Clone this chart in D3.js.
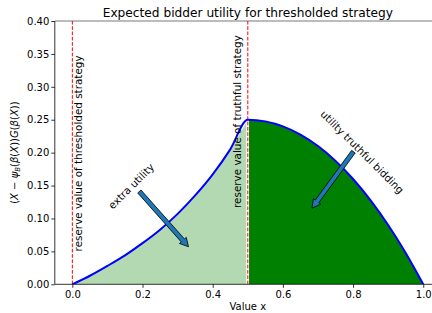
<!DOCTYPE html>
<html><head><meta charset="utf-8">
<script src="https://cdn.jsdelivr.net/npm/d3@7"></script>
<style>
body{margin:0;background:#fff}
svg{display:block}
text{font-family:"DejaVu Sans",sans-serif}
</style>
</head><body>
<svg id="c" width="432" height="313"></svg>
<script>
// ---- data ----
const thresholdX = [0.00, 0.05, 0.10, 0.15, 0.20, 0.25, 0.30, 0.35, 0.40, 0.45, 0.50];
const thresholdU = [0.000, 0.013, 0.028, 0.044, 0.0625, 0.083, 0.107, 0.135, 0.167, 0.205, 0.250];
const truthfulX  = [0.50, 0.55, 0.60, 0.65, 0.70, 0.75, 0.80, 0.85, 0.90, 0.95, 1.00];
const truthfulU  = [0.250, 0.2475, 0.240, 0.2275, 0.210, 0.1875, 0.160, 0.1275, 0.090, 0.0475, 0.000];
const reserveValues = [0.0, 0.5];
const xTickValues = [0.0, 0.2, 0.4, 0.6, 0.8, 1.0];
const yTickValues = [0.00, 0.05, 0.10, 0.15, 0.20, 0.25, 0.30, 0.35, 0.40];
const titleText = "Expected bidder utility for thresholded strategy";
const xLabelText = "Value x";
const reserveLabels = ["reserve value of thresholded strategy", "reserve value of truthful strategy"];
const annotationTexts = ["extra utility", "utility truthful bidding"];
// annotation geometry in data units: [textX, textY, arrowTailX, arrowTailY, arrowTipX, arrowTipY]
const annotationPos = [[0.168, 0.149, 0.191, 0.141, 0.331, 0.057],
                       [0.826, 0.201, 0.801, 0.2015, 0.683, 0.1155]];

// ---- layout ----
const svg = d3.select("#c");
const x = d3.scaleLinear().domain([-0.05, 1.05]).range([54.8, 440.8]);
const y = d3.scaleLinear().domain([0, 0.4]).range([284.3, 21]);

const leftData = thresholdX.map((v, i) => [v, thresholdU[i]]);
const rightData = truthfulX.map((v, i) => [v, truthfulU[i]]);

const defs = svg.append("defs");
defs.append("clipPath").attr("id", "plot").append("rect")
  .attr("x", x(-0.05)).attr("y", y(0.4)).attr("width", x(1.05) - x(-0.05)).attr("height", y(0) - y(0.4));
defs.append("clipPath").attr("id", "leftclip").append("rect")
  .attr("x", x(-0.05)).attr("y", 0).attr("width", x(0.4955) - x(-0.05)).attr("height", 313);
defs.append("clipPath").attr("id", "rightclip").append("rect")
  .attr("x", x(0.5035)).attr("y", 0).attr("width", 300).attr("height", 313);

const curve = d3.curveMonotoneX;
const area = d3.area().x(d => x(d[0])).y0(y(0)).y1(d => y(d[1])).curve(curve);
const line = d3.line().x(d => x(d[0])).y(d => y(d[1])).curve(curve);

const g = svg.append("g").attr("clip-path", "url(#plot)");
g.append("path").datum(leftData).attr("d", area)
  .attr("fill", "green").attr("fill-opacity", 0.3).attr("clip-path", "url(#leftclip)");
g.append("path").datum(rightData).attr("d", area)
  .attr("fill", "#008000").attr("clip-path", "url(#rightclip)");

// reserve lines
g.selectAll(".res").data(reserveValues).enter().append("line")
  .attr("x1", d => x(d)).attr("x2", d => x(d)).attr("y1", y(0)).attr("y2", y(0.4))
  .attr("stroke", "#ff0000").attr("stroke-width", 1).attr("stroke-dasharray", "3.7,1.6");

// utility curve
g.append("path").datum(leftData.concat(rightData.slice(1))).attr("d", line)
  .attr("fill", "none").attr("stroke", "#0000ff").attr("stroke-width", 2);

// reserve labels (rotated)
const resLabelPos = [[0.027, 0.050], [0.480, 0.116]];
resLabelPos.forEach((p, i) => {
  svg.append("text")
    .attr("transform", `translate(${x(p[0])},${y(p[1])}) rotate(-90)`)
    .attr("font-size", "10.4px").attr("fill", "#000")
    .text(reserveLabels[i]);
});

// annotations
function arrow(x0, y0, x1, y1) {
  const dx = x1 - x0, dy = y1 - y0, L = Math.hypot(dx, dy);
  const ux = dx / L, uy = dy / L, nx = -uy, ny = ux;
  const hw = 2.2, HW = 4.6, HL = 8.5;
  const bx = x1 - ux * HL, by = y1 - uy * HL;
  const pts = [
    [x0 + nx * hw, y0 + ny * hw], [bx + nx * hw, by + ny * hw], [bx + nx * HW, by + ny * HW],
    [x1, y1], [bx - nx * HW, by - ny * HW], [bx - nx * hw, by - ny * hw], [x0 - nx * hw, y0 - ny * hw]];
  return "M" + pts.map(p => p.join(",")).join("L") + "Z";
}
annotationPos.forEach((p, i) => {
  svg.append("text")
    .attr("transform", `translate(${x(p[0])},${y(p[1])}) rotate(${i === 0 ? -45 : 45})`)
    .attr("text-anchor", "middle").attr("dy", "0.35em")
    .attr("font-size", "10.3px").attr("fill", "#000")
    .text(annotationTexts[i]);
  svg.append("path").attr("d", arrow(x(p[2]), y(p[3]), x(p[4]), y(p[5])))
    .attr("fill", "#1f77b4").attr("stroke", "#000").attr("stroke-width", 0.8)
    .attr("stroke-linejoin", "miter");
});

// axes
const xAxis = d3.axisBottom(x).tickValues(xTickValues).tickFormat(d3.format(".1f")).tickSize(3.5).tickPadding(3.5);
const yAxis = d3.axisLeft(y).tickValues(yTickValues).tickFormat(d3.format(".2f")).tickSize(3.5).tickPadding(2);
const gx = svg.append("g").attr("transform", `translate(0,${y(0)})`).call(xAxis);
const gy = svg.append("g").attr("transform", `translate(${x(-0.05)},0)`).call(yAxis);
[gx, gy].forEach(a => {
  a.select(".domain").remove();
  a.selectAll(".tick line").attr("stroke", "#000").attr("stroke-width", 0.8);
  a.selectAll(".tick text").attr("font-size", "10px").attr("fill", "#000").attr("font-family", "DejaVu Sans");
});

// spines
const sp = svg.append("g").attr("stroke", "#000").attr("stroke-width", 0.8).attr("fill", "none");
sp.append("line").attr("x1", x(-0.05)).attr("x2", x(-0.05)).attr("y1", y(0)).attr("y2", y(0.4));
sp.append("line").attr("x1", x(-0.05)).attr("x2", x(1.05)).attr("y1", y(0)).attr("y2", y(0));
sp.append("line").attr("x1", x(-0.05)).attr("x2", x(1.05)).attr("y1", y(0.4)).attr("y2", y(0.4)).attr("stroke", "#555");
sp.append("line").attr("x1", x(1.05)).attr("x2", x(1.05)).attr("y1", y(0)).attr("y2", y(0.4));

// title and labels
const cx = (x(-0.05) + x(1.05)) / 2;
svg.append("text").attr("x", cx).attr("y", 17).attr("text-anchor", "middle")
  .attr("font-size", "12.2px").attr("fill", "#000").text(titleText);
svg.append("text").attr("x", cx).attr("y", 310).attr("text-anchor", "middle")
  .attr("font-size", "10px").attr("fill", "#000").text(xLabelText);

const yl = svg.append("text")
  .attr("transform", `translate(18,${(y(0) + y(0.4)) / 2}) rotate(-90)`)
  .attr("text-anchor", "middle").attr("font-size", "10px").attr("fill", "#000");
yl.append("tspan").text("(");
yl.append("tspan").attr("font-style", "italic").text("X");
yl.append("tspan").text(" − ");
yl.append("tspan").attr("font-style", "italic").text("ψ");
yl.append("tspan").attr("font-style", "italic").attr("font-size", "7px").attr("dy", "2").text("B");
yl.append("tspan").attr("dy", "-2").text("(");
yl.append("tspan").attr("font-style", "italic").text("β");
yl.append("tspan").text("(");
yl.append("tspan").attr("font-style", "italic").text("X");
yl.append("tspan").text("))");
yl.append("tspan").attr("font-style", "italic").text("G");
yl.append("tspan").text("(");
yl.append("tspan").attr("font-style", "italic").text("β");
yl.append("tspan").text("(");
yl.append("tspan").attr("font-style", "italic").text("X");
yl.append("tspan").text("))");
</script>
</body></html>
